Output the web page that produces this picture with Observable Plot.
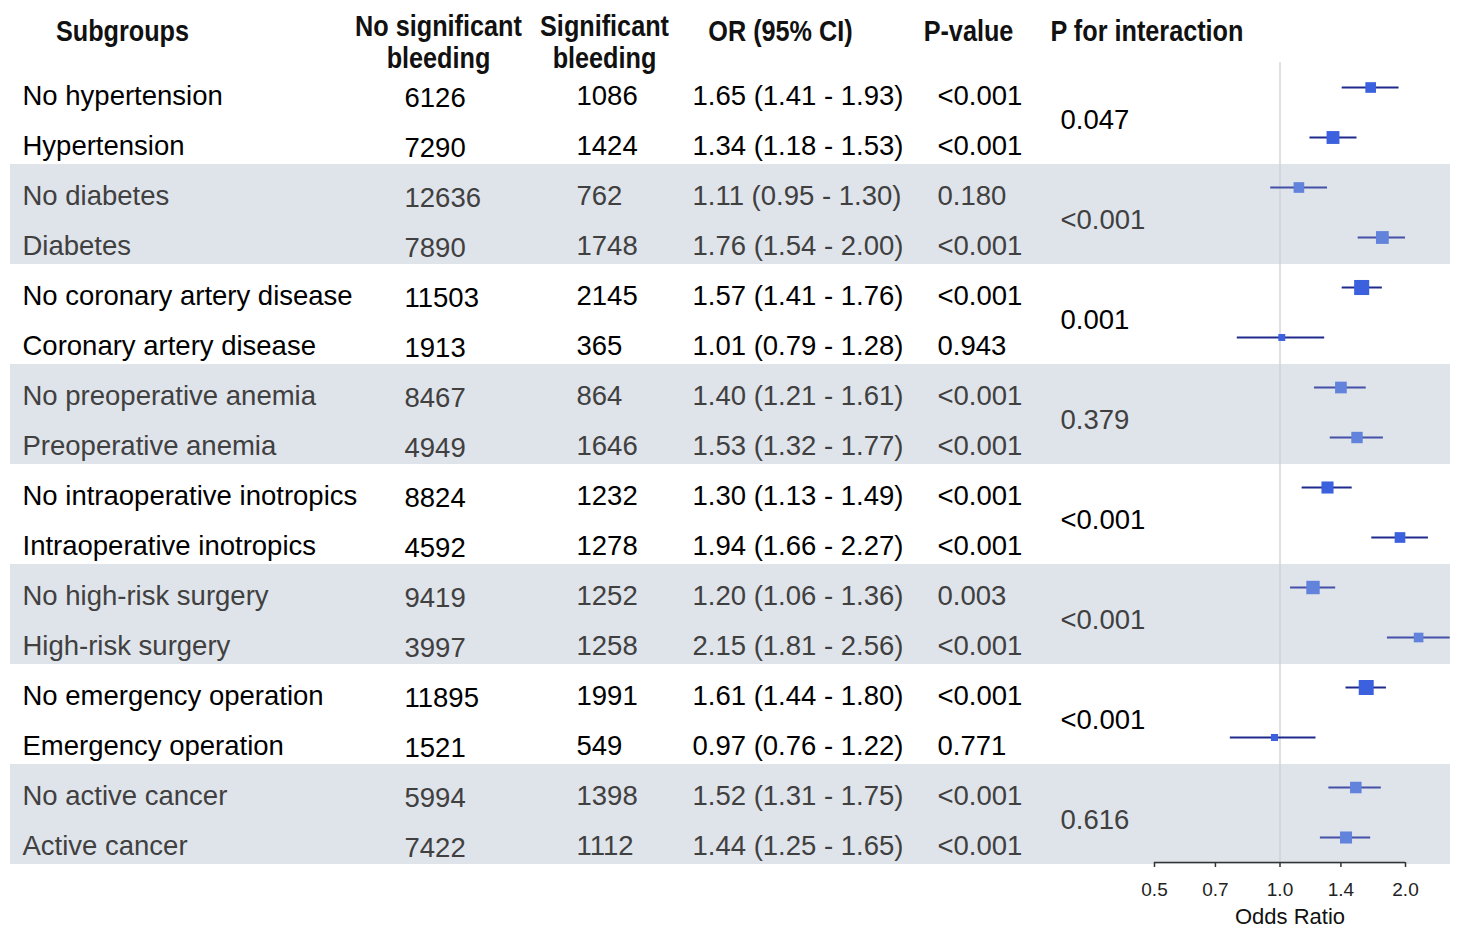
<!DOCTYPE html>
<html><head><meta charset="utf-8">
<script src="https://cdn.jsdelivr.net/npm/d3@7"></script>
<script src="https://cdn.jsdelivr.net/npm/@observablehq/plot@0.6"></script>
<style>body{margin:0;background:#fff}</style>
</head><body><div id="chart"></div>
<script>
const headers = ["Subgroups", "No significant\nbleeding", "Significant\nbleeding", "OR (95% CI)", "P-value", "P for interaction"];
const subgroups = ["No hypertension", "Hypertension", "No diabetes", "Diabetes", "No coronary artery disease", "Coronary artery disease", "No preoperative anemia", "Preoperative anemia", "No intraoperative inotropics", "Intraoperative inotropics", "No high-risk surgery", "High-risk surgery", "No emergency operation", "Emergency operation", "No active cancer", "Active cancer"];
const noBleeding = [6126, 7290, 12636, 7890, 11503, 1913, 8467, 4949, 8824, 4592, 9419, 3997, 11895, 1521, 5994, 7422];
const bleeding = [1086, 1424, 762, 1748, 2145, 365, 864, 1646, 1232, 1278, 1252, 1258, 1991, 549, 1398, 1112];
const oddsRatio = [1.65, 1.34, 1.11, 1.76, 1.57, 1.01, 1.40, 1.53, 1.30, 1.94, 1.20, 2.15, 1.61, 0.97, 1.52, 1.44];
const ciLow = [1.41, 1.18, 0.95, 1.54, 1.41, 0.79, 1.21, 1.32, 1.13, 1.66, 1.06, 1.81, 1.44, 0.76, 1.31, 1.25];
const ciHigh = [1.93, 1.53, 1.30, 2.00, 1.76, 1.28, 1.61, 1.77, 1.49, 2.27, 1.36, 2.56, 1.80, 1.22, 1.75, 1.65];
const pValues = ["<0.001", "<0.001", "0.180", "<0.001", "<0.001", "0.943", "<0.001", "<0.001", "<0.001", "<0.001", "0.003", "<0.001", "<0.001", "0.771", "<0.001", "<0.001"];
const pInteraction = ["0.047", "<0.001", "0.001", "0.379", "<0.001", "<0.001", "<0.001", "0.616"];
const xTicks = [0.5, 0.7, 1.0, 1.4, 2.0];

const rows = subgroups.map((label, i) => {
  const se = (Math.log(ciHigh[i]) - Math.log(ciLow[i])) / 3.92;
  return {
    i, label,
    n0: String(noBleeding[i]), n1: String(bleeding[i]),
    or: oddsRatio[i], lo: ciLow[i], hi: ciHigh[i],
    orText: `${oddsRatio[i].toFixed(2)} (${ciLow[i].toFixed(2)} - ${ciHigh[i].toFixed(2)})`,
    p: pValues[i],
    shaded: Math.floor(i / 2) % 2 === 1,
    weight: 1 / (se * se)
  };
});
const pairs = pInteraction.map((p, k) => ({i: 2 * k, p, shaded: k % 2 === 1}));
const shadedRows = rows.filter(d => d.shaded).map(d => d.i);

const ML = 10;
const txtColor = d => d.shaded ? "#404040" : "#000000";
const bodyFont = 27.5;
const col = (data, field, left, extra = {}) => Plot.text(data, {
  y: "i", text: field, frameAnchor: "left", textAnchor: "start",
  dx: left - ML, dy: 7, fill: txtColor, fontSize: bodyFont, ...extra
});
const headerCenters = [122, 438, 604, 780, 968, 1050];
const headerMarks = headers.map((h, k) => Plot.text([h], {
  y: () => -1, text: d => d, frameAnchor: "left",
  textAnchor: k === 5 ? "start" : "middle",
  dx: headerCenters[k] - ML, dy: h.includes("\n") ? 2 : -9,
  lineHeight: 1.1, fontSize: 29, fontWeight: "bold",
  fill: "#111"
}));

const chart = Plot.plot({
  width: 1459, height: 928,
  marginLeft: ML, marginRight: 9, marginTop: 62, marginBottom: 66,
  style: {fontFamily: "'Liberation Sans', Arial, sans-serif", background: "#fff"},
  x: {type: "log", domain: [0.5, 2], range: [1154, 1405]},
  y: {type: "band", domain: d3.range(-1, 16), range: [14, 864], padding: 0, axis: null},
  r: {range: [0, 8.5]},
  color: {type: "identity"},
  marks: [
    Plot.cell(shadedRows, {y: d => d, fill: "#dfe3ea"}),
    Plot.ruleX([1], {stroke: "#cdd0d4", strokeWidth: 1.3}),
    ...headerMarks,
    col(rows, "label", 22),
    col(rows, "n0", 404, {dy: 9}),
    col(rows, "n1", 576),
    col(rows, "orText", 692),
    col(rows, "p", 937),
    Plot.text(pairs, {y: "i", text: "p", frameAnchor: "left", textAnchor: "start",
      dx: 1060 - ML, dy: 31, fill: txtColor, fontSize: bodyFont}),
    Plot.ruleY(rows, {y: "i", x1: "lo", x2: "hi", dy: -2,
      stroke: d => d.shaded ? "#4550a8" : "#1f2a8c", strokeWidth: 2}),
    Plot.dot(rows, {x: "or", y: "i", r: "weight", symbol: "square", dy: -2,
      fill: d => d.shaded ? "#6183dc" : "#3b61de", stroke: null}),
    Plot.ruleY([15], {y: d => d, x1: 0.5, x2: 2, dy: 23, stroke: "#333", strokeWidth: 1.5}),
    Plot.axisX({ticks: xTicks, tickFormat: () => "", tickSize: 5, label: null,
      stroke: "#333", strokeWidth: 1.5}),
    Plot.text(xTicks, {x: d => d, text: d => d.toFixed(1), frameAnchor: "bottom", lineAnchor: "middle",
      dy: 27, fontSize: 19, fill: "#222"}),
    Plot.text(["Odds Ratio"], {x: () => 1, text: d => d, frameAnchor: "bottom", lineAnchor: "middle",
      dy: 54, dx: 10, fontSize: 22, fill: "#111"})
  ]
});
d3.select(chart).selectAll("g[font-weight='bold'] text").each(function () {
  const t = this.getAttribute("transform") || "";
  this.setAttribute("transform", t + " scale(0.87,1)");
});
document.getElementById("chart").appendChild(chart);
</script>
</body></html>
